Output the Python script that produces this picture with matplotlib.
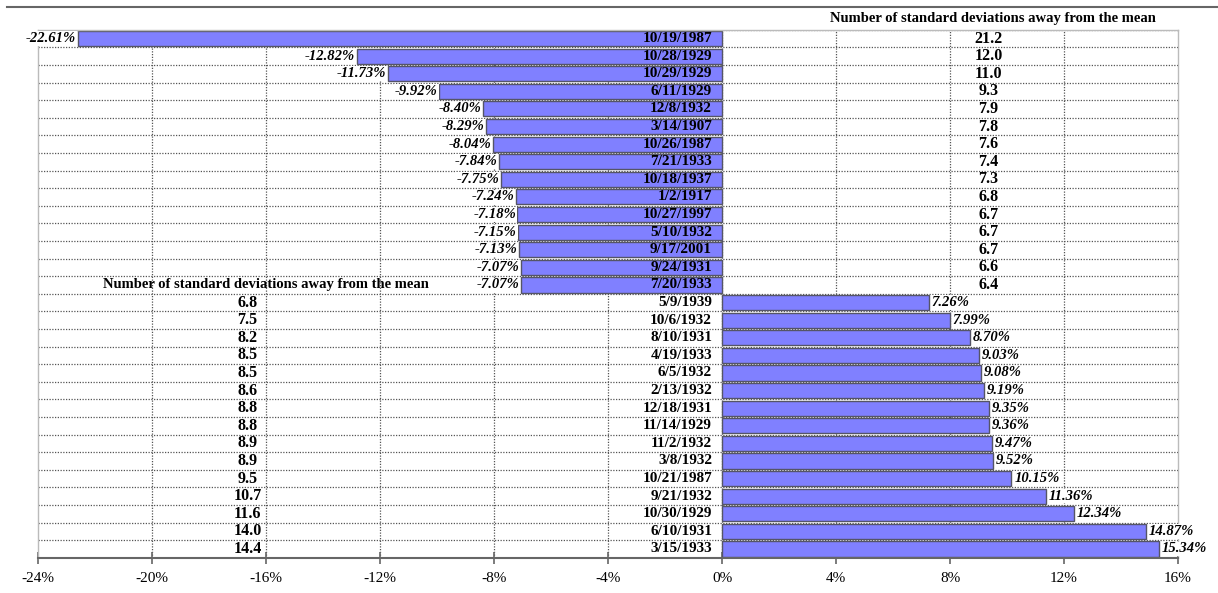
import numpy as np
import matplotlib.pyplot as plt
from matplotlib.lines import Line2D
from matplotlib.ticker import FuncFormatter

# Largest daily declines and advances (percent change) with std-dev distance
down_dates = ["10/19/1987", "10/28/1929", "10/29/1929", "6/11/1929", "12/8/1932",
              "3/14/1907", "10/26/1987", "7/21/1933", "10/18/1937", "1/2/1917",
              "10/27/1997", "5/10/1932", "9/17/2001", "9/24/1931", "7/20/1933"]
down_pct = [-22.61, -12.82, -11.73, -9.92, -8.40, -8.29, -8.04, -7.84, -7.75, -7.24,
            -7.18, -7.15, -7.13, -7.07, -7.07]
down_sd = [21.2, 12.0, 11.0, 9.3, 7.9, 7.8, 7.6, 7.4, 7.3, 6.8, 6.7, 6.7, 6.7, 6.6, 6.4]

up_dates = ["5/9/1939", "10/6/1932", "8/10/1931", "4/19/1933", "6/5/1932",
            "2/13/1932", "12/18/1931", "11/14/1929", "11/2/1932", "3/8/1932",
            "10/21/1987", "9/21/1932", "10/30/1929", "6/10/1931", "3/15/1933"]
up_pct = [7.26, 7.99, 8.70, 9.03, 9.08, 9.19, 9.35, 9.36, 9.47, 9.52,
          10.15, 11.36, 12.34, 14.87, 15.34]
up_sd = [6.8, 7.5, 8.2, 8.5, 8.5, 8.6, 8.8, 8.8, 8.9, 8.9, 9.5, 10.7, 11.6, 14.0, 14.4]

header = "Number of standard deviations away from the mean"

plt.rcParams["font.family"] = ["Liberation Serif", "DejaVu Serif"]

dates = down_dates + up_dates
pct = down_pct + up_pct
sd = down_sd + up_sd
y = np.arange(len(dates))

fig = plt.figure(figsize=(12.18, 5.93), dpi=100)
ax = fig.add_axes([0.0312, 0.0594, 0.9360, 0.8905])

# grid between rows and at ticks
for b in np.arange(-0.5, len(dates), 1.0):
    ax.axhline(b, color="#555555", lw=0.9, ls=(0, (1, 1.2)), zorder=1)
for t in range(-20, 16, 4):
    ax.axvline(t, color="#555555", lw=0.9, ls=(0, (1, 1.2)), zorder=1)

ax.barh(y, pct, height=0.86, color="#8080ff", edgecolor="#555566", lw=1.0, zorder=2)

ax.set_xlim(-24, 16)
ax.set_ylim(len(dates) - 0.5, -0.5)

for i in y:
    ax.text(-0.35, i, dates[i], ha="right", va="center", fontsize=11,
            fontweight="bold", zorder=3)
    v = pct[i]
    if v < 0:
        ax.text(v - 0.05, i, f"{v:.2f}%", ha="right", va="center", fontsize=10.5,
                fontweight="bold", style="italic", zorder=3,
                bbox=dict(boxstyle="square,pad=0.05", fc="white", ec="none"))
        ax.text(9.35, i, f"{sd[i]:.1f}", ha="center", va="center", fontsize=11.5,
                fontweight="bold", zorder=3)
    else:
        ax.text(v + 0.1, i, f"{v:.2f}%", ha="left", va="center", fontsize=10.5,
                fontweight="bold", style="italic", zorder=3,
                bbox=dict(boxstyle="square,pad=0.05", fc="white", ec="none"))
        ax.text(-16.65, i, f"{sd[i]:.1f}", ha="center", va="center", fontsize=11.5,
                fontweight="bold", zorder=3)

ax.text(9.5, -0.75, header, ha="center", va="bottom", fontsize=10.5,
        fontweight="bold", clip_on=False)
ax.text(-16.0, len(down_dates) - 1, header, ha="center", va="center",
        fontsize=10.5, fontweight="bold", zorder=3)

ax.set_xticks(range(-24, 17, 4))
ax.xaxis.set_major_formatter(FuncFormatter(lambda x, _: f"{x:.0f}%"))
ax.tick_params(axis="x", direction="inout", length=8, width=1.2,
               color="#666666", labelsize=11, pad=6)
ax.set_yticks([])

for side in ["left", "top", "right"]:
    ax.spines[side].set_color("#bbbbbb")
    ax.spines[side].set_linewidth(1.0)
ax.spines["bottom"].set_color("#666666")
ax.spines["bottom"].set_linewidth(1.5)

fig.add_artist(Line2D([0.006, 1.0], [0.988, 0.988], color="#666666", lw=1.5))

fig.savefig("out.png", dpi=100)
